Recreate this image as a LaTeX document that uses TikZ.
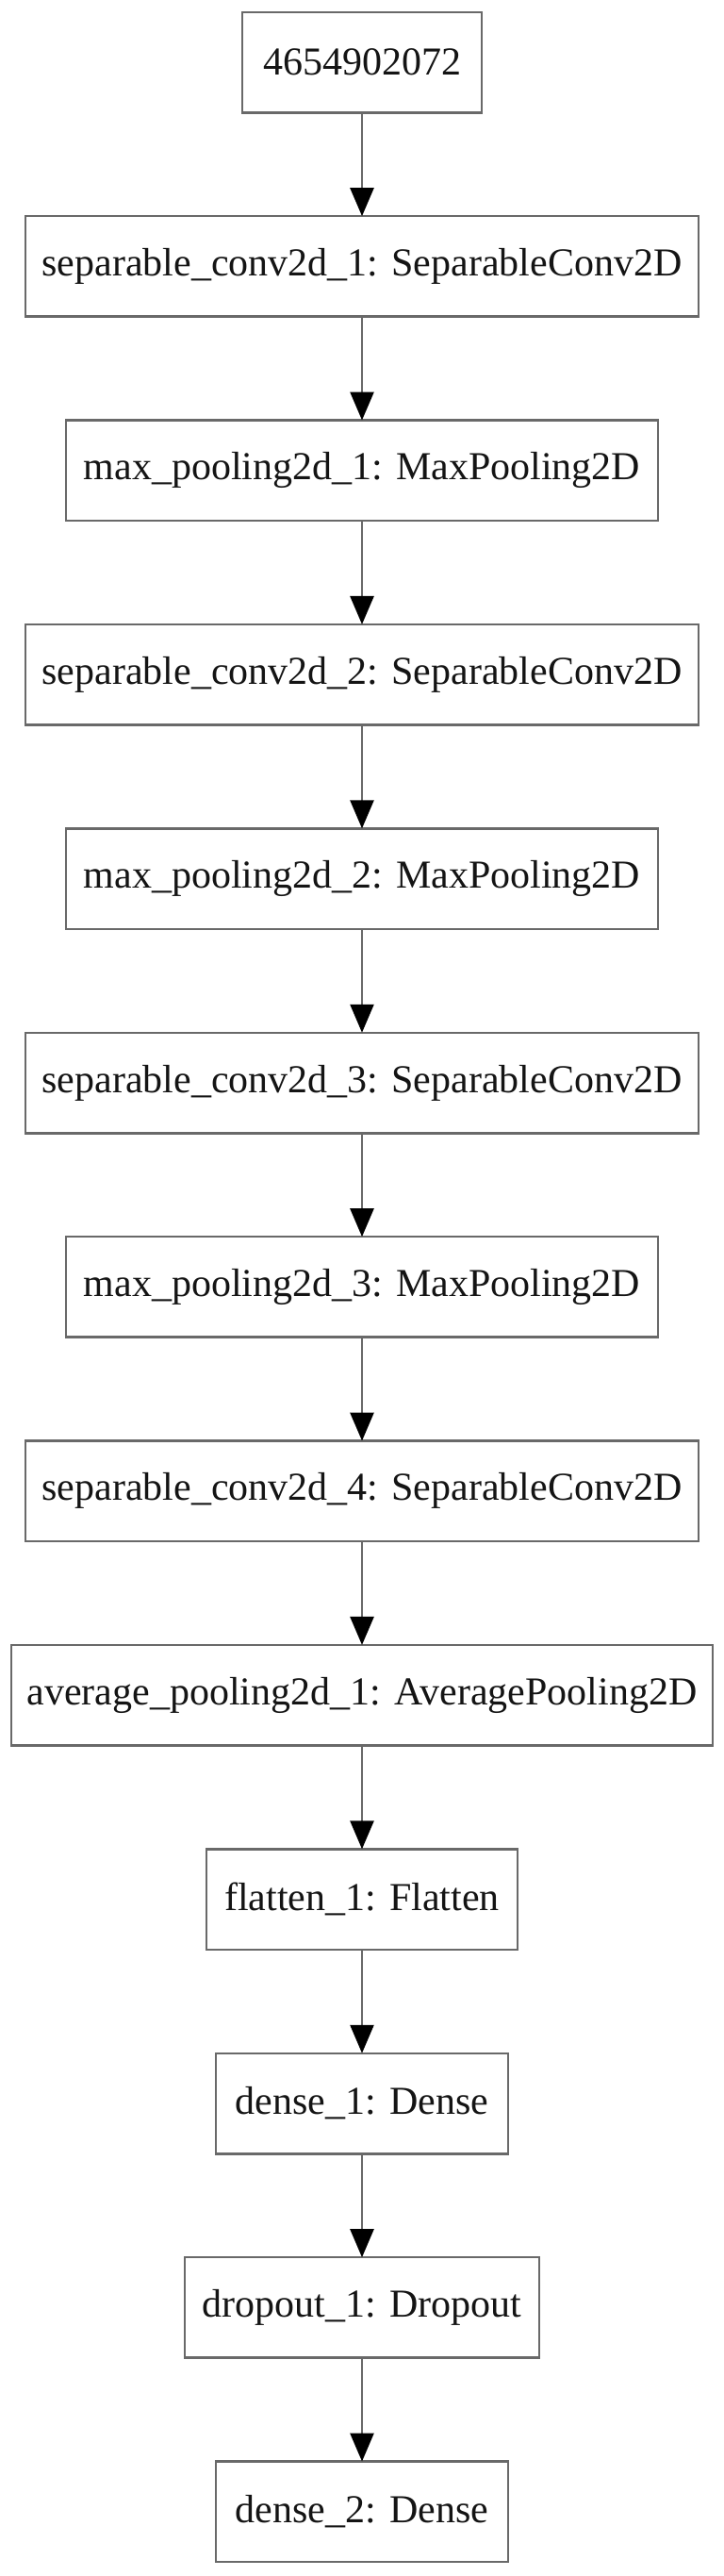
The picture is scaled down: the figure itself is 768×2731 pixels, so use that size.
\documentclass[tikz,border=0pt]{standalone}
\usepackage{fontspec}
\setmainfont{Liberation Serif}
\usepackage{xcolor}
\usepackage{tikz}
\usetikzlibrary{positioning,arrows.meta}
\definecolor{edge}{RGB}{105,105,105}
\definecolor{ink}{RGB}{20,20,20}

\tikzset{
  layer/.style={draw=edge, line width=2.5pt, minimum height=106.5pt, inner sep=0pt,
    outer sep=0pt, text=ink, font=\fontsize{42}{50}\selectfont},
  flow/.style={draw=edge, line width=2.5pt, -{Triangle[length=30pt,width=25pt,color=black]}}
}

\begin{document}
\begin{tikzpicture}[x=1pt,y=1pt,node distance=109.9pt]
\useasboundingbox (0,0) rectangle (768,-2731);
\node[layer,minimum width=254pt] (input) at (384,-66) {4654902072};
\node[layer,minimum width=714pt,below=of input] (sep1) {separable\_conv2d\_1: SeparableConv2D};
\node[layer,minimum width=628pt,below=of sep1] (pool1) {max\_pooling2d\_1: MaxPooling2D};
\node[layer,minimum width=714pt,below=of pool1] (sep2) {separable\_conv2d\_2: SeparableConv2D};
\node[layer,minimum width=628pt,below=of sep2] (pool2) {max\_pooling2d\_2: MaxPooling2D};
\node[layer,minimum width=714pt,below=of pool2] (sep3) {separable\_conv2d\_3: SeparableConv2D};
\node[layer,minimum width=628pt,below=of sep3] (pool3) {max\_pooling2d\_3: MaxPooling2D};
\node[layer,minimum width=714pt,below=of pool3] (sep4) {separable\_conv2d\_4: SeparableConv2D};
\node[layer,minimum width=744pt,below=of sep4] (avgpool) {average\_pooling2d\_1: AveragePooling2D};
\node[layer,minimum width=330pt,below=of avgpool] (flat) {flatten\_1: Flatten};
\node[layer,minimum width=310pt,below=of flat] (dense1) {dense\_1: Dense};
\node[layer,minimum width=376pt,below=of dense1] (drop) {dropout\_1: Dropout};
\node[layer,minimum width=310pt,below=of drop] (dense2) {dense\_2: Dense};

% connections
\foreach \a/\b in {input/sep1, sep1/pool1, pool1/sep2, sep2/pool2, pool2/sep3, sep3/pool3,
  pool3/sep4, sep4/avgpool, avgpool/flat, flat/dense1, dense1/drop, drop/dense2}
  \draw[flow] (\a) -- (\b);
\end{tikzpicture}
\end{document}
